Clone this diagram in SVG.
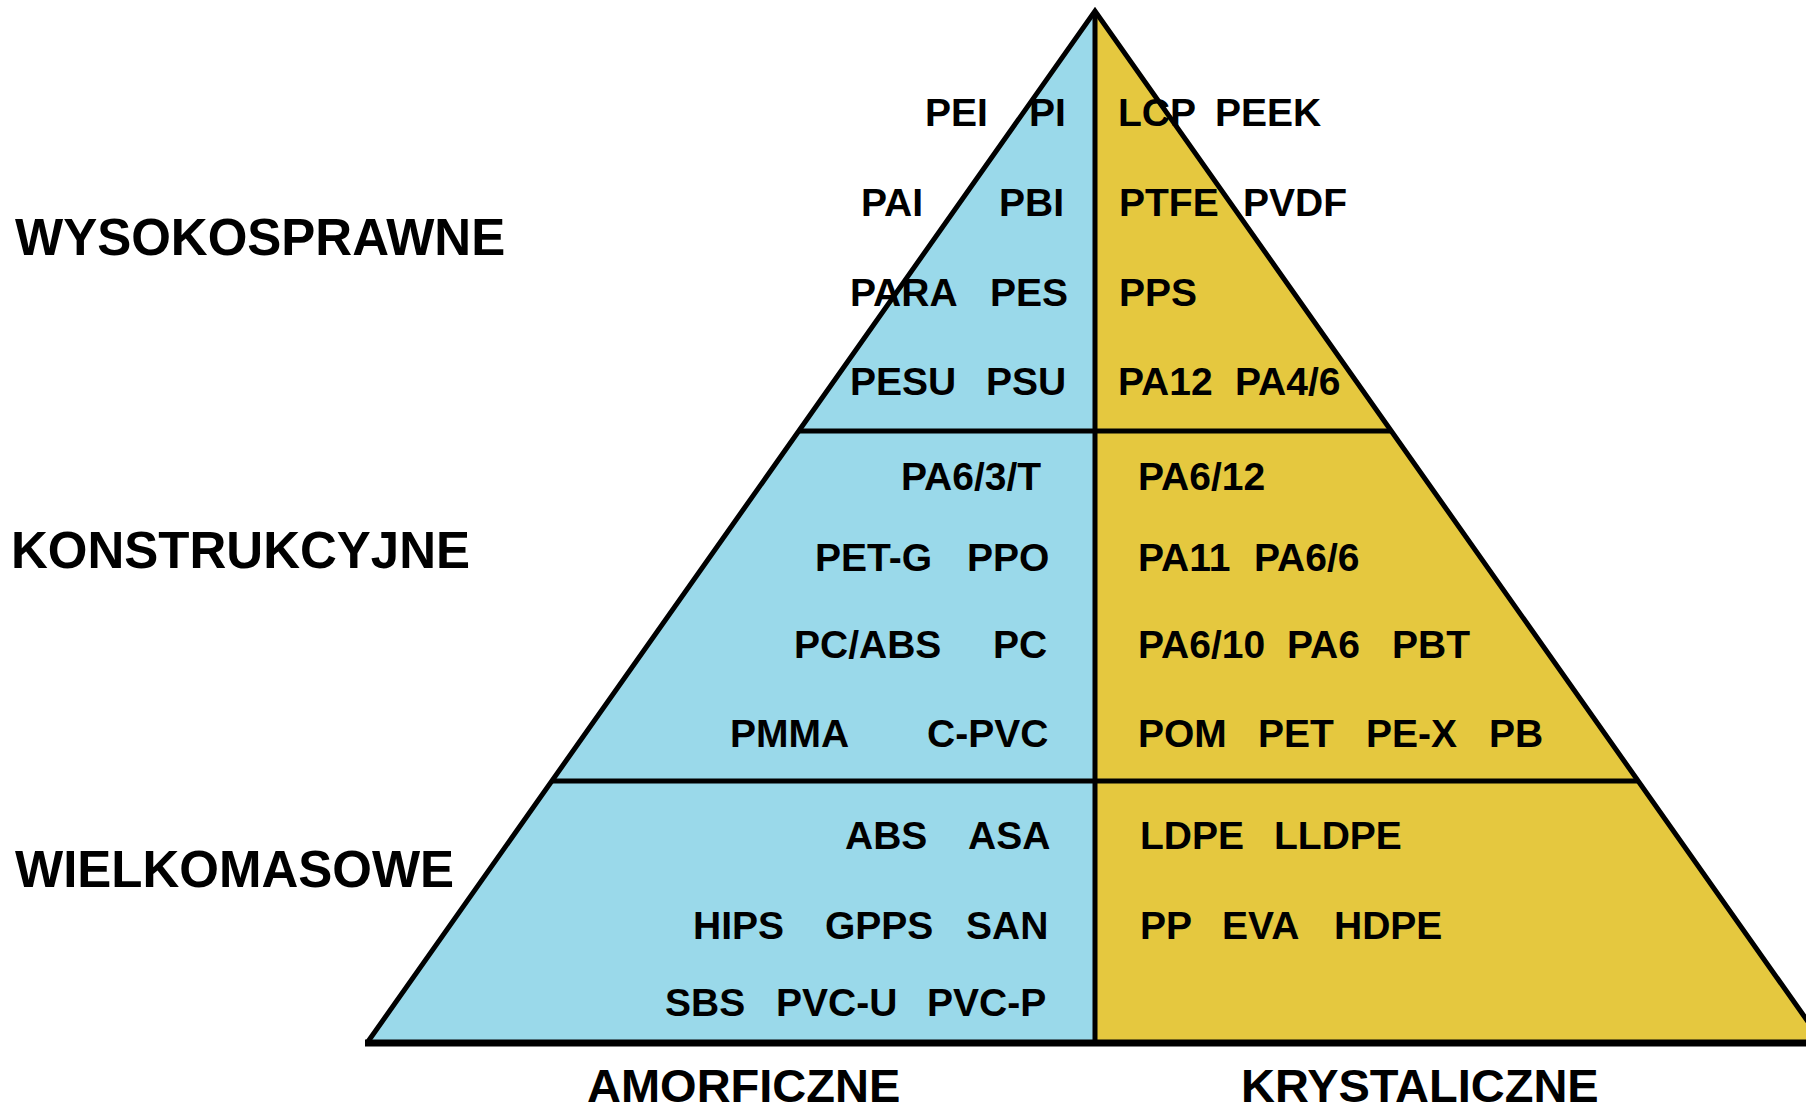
<svg xmlns="http://www.w3.org/2000/svg" width="1806" height="1107" viewBox="0 0 1806 1107">
<style>
text{font-family:"Liberation Sans",Arial,sans-serif;font-weight:bold;fill:#000}
.p{font-size:39px}
.h{font-size:51px}
.b{font-size:47px}
.ln{stroke:#000;stroke-width:5;fill:none;stroke-linejoin:miter}
</style>
<rect width="1806" height="1107" fill="#fff"/>
<g id="amorphous-side">
<polygon points="1095,11 1095,1043 367,1043" fill="#9AD9EA"/>
</g>
<g id="crystalline-side">
<polygon points="1095,11 1823,1043 1095,1043" fill="#E5C83F"/>
</g>
<g id="connectors">
<polyline class="ln" points="367,1043 1095,11 1823,1043"/>
<line class="ln" x1="1095" y1="11" x2="1095" y2="1043"/>
<line class="ln" x1="798" y1="431" x2="1392" y2="431"/>
<line class="ln" x1="551" y1="781" x2="1639" y2="781"/>
<line x1="365" y1="1043" x2="1806" y2="1043" stroke="#000" stroke-width="7"/>
</g>
<g id="level-high">
<text class="h" x="15" y="255">WYSOKOSPRAWNE</text>
<text class="p" x="925" y="126">PEI</text>
<text class="p" x="1029" y="126">PI</text>
<text class="p" x="1118" y="126">LCP</text>
<text class="p" x="1215" y="126">PEEK</text>
<text class="p" x="861" y="216">PAI</text>
<text class="p" x="999" y="216">PBI</text>
<text class="p" x="1119" y="216">PTFE</text>
<text class="p" x="1243" y="216">PVDF</text>
<text class="p" x="850" y="306">PARA</text>
<text class="p" x="990" y="306">PES</text>
<text class="p" x="1119" y="306">PPS</text>
<text class="p" x="850" y="395">PESU</text>
<text class="p" x="986" y="395">PSU</text>
<text class="p" x="1118" y="395">PA12</text>
<text class="p" x="1235" y="395">PA4/6</text>
</g>
<g id="level-engineering">
<text class="h" x="11" y="568">KONSTRUKCYJNE</text>
<text class="p" x="901" y="490">PA6/3/T</text>
<text class="p" x="1138" y="490">PA6/12</text>
<text class="p" x="815" y="571">PET-G</text>
<text class="p" x="967" y="571">PPO</text>
<text class="p" x="1138" y="571">PA11</text>
<text class="p" x="1254" y="571">PA6/6</text>
<text class="p" x="794" y="658">PC/ABS</text>
<text class="p" x="993" y="658">PC</text>
<text class="p" x="1138" y="658">PA6/10</text>
<text class="p" x="1287" y="658">PA6</text>
<text class="p" x="1392" y="658">PBT</text>
<text class="p" x="730" y="747">PMMA</text>
<text class="p" x="927" y="747">C-PVC</text>
<text class="p" x="1138" y="747">POM</text>
<text class="p" x="1258" y="747">PET</text>
<text class="p" x="1366" y="747">PE-X</text>
<text class="p" x="1489" y="747">PB</text>
</g>
<g id="level-commodity">
<text class="h" x="15" y="887">WIELKOMASOWE</text>
<text class="p" x="845" y="849">ABS</text>
<text class="p" x="968" y="849">ASA</text>
<text class="p" x="1140" y="849">LDPE</text>
<text class="p" x="1274" y="849">LLDPE</text>
<text class="p" x="693" y="939">HIPS</text>
<text class="p" x="825" y="939">GPPS</text>
<text class="p" x="966" y="939">SAN</text>
<text class="p" x="1140" y="939">PP</text>
<text class="p" x="1222" y="939">EVA</text>
<text class="p" x="1334" y="939">HDPE</text>
<text class="p" x="665" y="1016">SBS</text>
<text class="p" x="776" y="1016">PVC-U</text>
<text class="p" x="927" y="1016">PVC-P</text>
</g>
<g id="axis-labels">
<text class="b" x="587" y="1102">AMORFICZNE</text>
<text class="b" x="1241" y="1102">KRYSTALICZNE</text>
</g>
</svg>
